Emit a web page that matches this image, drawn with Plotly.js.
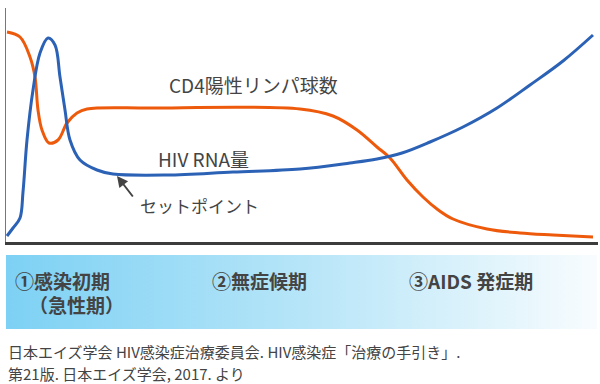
<!DOCTYPE html>
<html>
<head>
<meta charset="utf-8">
<script src="https://cdn.plot.ly/plotly-3.0.1.min.js"></script>
<style>html,body{margin:0;padding:0;background:#fff;}#chart{width:600px;height:384px;}</style>
</head>
<body>
<div id="chart"></div>
<script>
// CD4 lymphocyte count (orange) — time vs. level, arbitrary units
const cd4Time  = [0, 13, 23, 28, 31, 35, 42, 51, 60, 70, 80, 143, 293, 326, 350, 370, 383, 400, 416, 430, 446, 480, 513, 546, 586];
const cd4Level = [210, 205, 185, 165, 132, 112, 99, 102, 119, 129, 133, 134, 133, 126, 112, 95, 84, 62, 45, 33, 23, 13, 9, 7, 5];

// HIV RNA viral load (blue)
const rnaTime  = [0, 6, 13, 16, 20, 26, 33, 41, 48, 53, 58, 63, 73, 90, 106, 160, 226, 293, 343, 370, 395, 423, 456, 490, 523, 556, 586];
const rnaLevel = [6, 14, 24, 50, 102, 152, 189, 204, 197, 165, 132, 102, 82, 72, 68, 67, 70, 73, 79, 83, 89, 100, 115, 134, 157, 181, 207];

const seriesNames = ["CD4陽性リンパ球数", "HIV RNA量"];
const setPointLabel = "セットポイント";
const stageLabels = ["①感染初期", "（急性期）", "②無症候期", "③AIDS 発症期"];
const sourceLines = ["日本エイズ学会 HIV感染症治療委員会. HIV感染症「治療の手引き」.", "第21版. 日本エイズ学会, 2017. より"];

const FONT = "'Noto Sans CJK JP', 'Noto Sans', sans-serif";
const TXT = "#444444";

// pixel helpers for paper coords (plot area: left 6, right 598, top 8, bottom 329)
const W = 592, H = 321;
const px = v => (v - 6) / W;
const py = v => (329 - v) / H;

const svg = "<svg xmlns='http://www.w3.org/2000/svg' width='591' height='74' preserveAspectRatio='none'>" +
  "<defs><linearGradient id='g' x1='0' x2='1' y1='0' y2='0'>" +
  "<stop offset='0' stop-color='#7dd1f4'/><stop offset='0.5' stop-color='#b6e5f8'/><stop offset='1' stop-color='#f8fcfe'/>" +
  "</linearGradient></defs><rect width='591' height='74' fill='url(#g)'/></svg>";
const bandSrc = "data:image/svg+xml;charset=utf-8," + encodeURIComponent(svg);

const traces = [
  {x: cd4Time, y: cd4Level, name: seriesNames[0], type: "scatter", mode: "lines",
   line: {color: "#ee5a0c", width: 3, shape: "spline", smoothing: 1}, hoverinfo: "skip"},
  {x: rnaTime, y: rnaLevel, name: seriesNames[1], type: "scatter", mode: "lines",
   line: {color: "#2b62b6", width: 3, shape: "spline", smoothing: 1}, hoverinfo: "skip"}
];

const annotations = [
  {xref: "x", yref: "y", x: 246, y: 158, text: seriesNames[0], showarrow: false,
   font: {family: FONT, size: 19, color: TXT}},
  {xref: "x", yref: "y", x: 196, y: 84, text: seriesNames[1], showarrow: false,
   font: {family: FONT, size: 19, color: TXT}},
  {xref: "x", yref: "y", x: 192, y: 37, text: setPointLabel, showarrow: false,
   font: {family: FONT, size: 17, color: TXT}},
  {xref: "x", yref: "y", x: 110, y: 66, axref: "x", ayref: "y", ax: 127, ay: 44, text: "",
   showarrow: true, arrowhead: 2, arrowsize: 1.1, arrowwidth: 2, arrowcolor: TXT, standoff: 0, startstandoff: 0},
  {xref: "paper", yref: "paper", x: px(13), y: py(280), xanchor: "left", yanchor: "middle", text: "<b>" + stageLabels[0] + "</b>",
   showarrow: false, font: {family: FONT, size: 19, color: TXT}},
  {xref: "paper", yref: "paper", x: px(76), y: py(304), xanchor: "center", yanchor: "middle", text: "<b>" + stageLabels[1] + "</b>",
   showarrow: false, font: {family: FONT, size: 19, color: TXT}},
  {xref: "paper", yref: "paper", x: px(210), y: py(280), xanchor: "left", yanchor: "middle", text: "<b>" + stageLabels[2] + "</b>",
   showarrow: false, font: {family: FONT, size: 19, color: TXT}},
  {xref: "paper", yref: "paper", x: px(407), y: py(280), xanchor: "left", yanchor: "middle", text: "<b>" + stageLabels[3] + "</b>",
   showarrow: false, font: {family: FONT, size: 19, color: TXT}},
  {xref: "paper", yref: "paper", x: px(6), y: py(352), xanchor: "left", yanchor: "middle", text: sourceLines[0],
   showarrow: false, font: {family: FONT, size: 15, color: TXT}},
  {xref: "paper", yref: "paper", x: px(6), y: py(374), xanchor: "left", yanchor: "middle", text: sourceLines[1],
   showarrow: false, font: {family: FONT, size: 15, color: TXT}}
];

const layout = {
  width: 600, height: 384,
  margin: {l: 6, r: 2, t: 8, b: 55, pad: 0},
  paper_bgcolor: "#ffffff", plot_bgcolor: "#ffffff",
  showlegend: false,
  font: {family: FONT, color: TXT},
  xaxis: {range: [-1, 591], domain: [0, 1], showline: true, linecolor: "#3c3c3c", linewidth: 2.5,
          showgrid: false, zeroline: false, showticklabels: false, ticks: "", fixedrange: true},
  yaxis: {range: [0, 234], domain: [py(242), 1], showline: true, linecolor: "#777777", linewidth: 1.5,
          showgrid: false, zeroline: false, showticklabels: false, ticks: "", fixedrange: true},
  images: [{source: bandSrc, xref: "paper", yref: "paper", x: 0, y: py(255), sizex: 591 / W, sizey: py(255) - py(329),
            xanchor: "left", yanchor: "top", sizing: "stretch", layer: "below"}],
  annotations: annotations
};

Plotly.newPlot("chart", traces, layout, {displayModeBar: false, staticPlot: true});
</script>
</body>
</html>
